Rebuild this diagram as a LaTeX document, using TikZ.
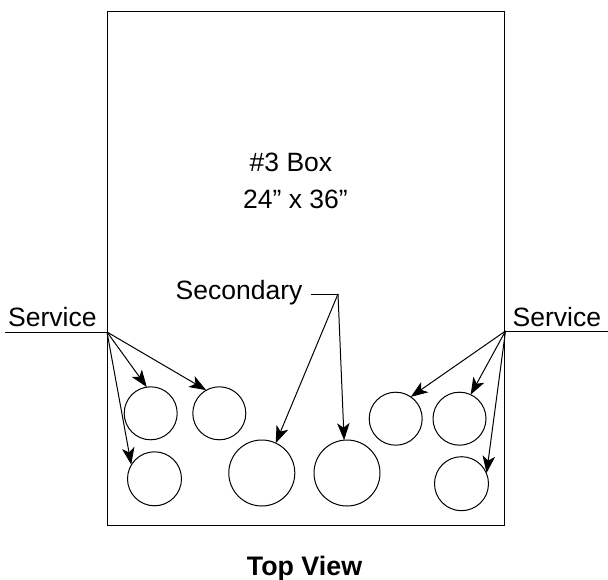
\documentclass[tikz,border=0pt]{standalone}
\usepackage{fontspec}
\setmainfont{Liberation Sans}
\usetikzlibrary{arrows.meta}
\tikzset{
  ln/.style={line width=1pt,black},
  hole/.style={circle,draw,line width=1pt,inner sep=0pt,minimum size=#1},
  lead/.style={line width=1pt,-{Stealth[length=17pt,width=12.5pt,inset=4.5pt]},shorten >=-0.5pt},
  lbl/.style={inner sep=0pt,font=\fontsize{26.5}{30}\selectfont}
}
\begin{document}
\begin{tikzpicture}[x=1pt,y=-1pt]
\useasboundingbox (0,0) rectangle (608,580);
\node[draw,line width=1pt,minimum width=397pt,minimum height=514pt,inner sep=0pt,anchor=north west] (box) at (107,11) {};
\node[lbl,anchor=base west] (t1) at (249.5,172) {\#3 Box};
\node[lbl,anchor=base west] (t2) at (243,209) {24” x 36”};
\node[lbl,anchor=base west] (sec) at (175.5,299.5) {Secondary};
\node[lbl,anchor=base west] (svl) at (8,326) {Service};
\node[lbl,anchor=base west] (svr) at (512.5,326) {Service};
\node[lbl,anchor=base,font=\fontsize{26.8}{30}\selectfont\bfseries] (tv) at (304.5,575) {Top View};
\coordinate (la) at (107,332);
\coordinate (ra) at (505.5,331);
\coordinate (l0) at (5,332);
\coordinate (r0) at (608,331);
\coordinate (s0) at (311,294);
\coordinate (s1) at (338,294);
\node[hole=53pt] (c1) at (150.7,413.3) {};
\node[hole=53pt] (c2) at (219.3,413.3) {};
\node[hole=54pt] (c3) at (154.5,478.8) {};
\node[hole=66pt] (c4) at (261.8,473) {};
\node[hole=66pt] (c5) at (347,473) {};
\node[hole=53pt] (c6) at (395.7,418.7) {};
\node[hole=53pt] (c7) at (459.5,418.7) {};
\node[hole=54pt] (c8) at (461.5,483.7) {};
\draw[ln] (l0) -- (la);
\draw[ln] (ra) -- (r0);
\draw[ln] (s0) -- (s1);
\draw[lead] (la) -- (c1.99.6);
\draw[lead] (la) -- (c2.120.8);
\draw[lead] (la) -- (c3.148.3);
\draw[lead] (s1) -- (c4.65.4);
\draw[lead] (s1) -- (c5.95);
\draw[lead] (ra) -- (c6.55.7);
\draw[lead] (ra) -- (c7.65);
\draw[lead] (ra) -- (c8.24.3);
\end{tikzpicture}
\end{document}
